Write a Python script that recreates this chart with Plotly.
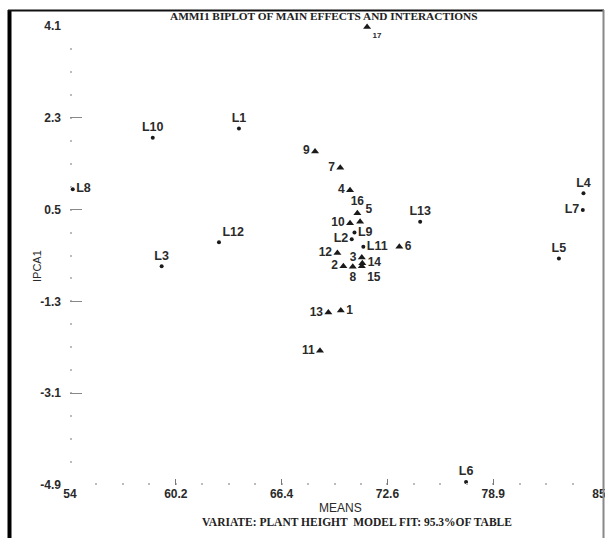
import plotly.graph_objects as go

# ---- data ----
geno_names = ["1", "2", "3", "4", "5", "6", "7", "8", "9", "10",
              "11", "12", "13", "14", "15", "16", "17"]
geno_means = [69.87, 70.02, 71.10, 70.41, 71.00, 73.30, 69.84, 70.57, 68.36, 70.41,
              68.65, 69.67, 69.14, 71.13, 71.10, 70.84, 71.41]
geno_ipca = [-1.48, -0.61, -0.44, 0.88, 0.26, -0.23, 1.32, -0.62, 1.64, 0.23,
             -2.27, -0.35, -1.52, -0.55, -0.61, 0.43, 4.08]

env_names = ["L1", "L2", "L3", "L4", "L5", "L6", "L7", "L8", "L9", "L10",
             "L11", "L12", "L13"]
env_means = [63.90, 70.51, 59.37, 84.09, 82.65, 77.21, 84.05, 54.16, 70.67, 58.85,
             71.19, 62.73, 74.52]
env_ipca = [2.09, -0.08, -0.61, 0.82, -0.46, -4.84, 0.49, 0.90, 0.05, 1.91,
            -0.23, -0.14, 0.26]

x_tickvals = [54, 60.2, 66.4, 72.6, 78.8, 85]
x_ticktext = ["54", "60.2", "66.4", "72.6", "78.9", "85"]
y_tickvals = [-4.9, -3.1, -1.3, 0.5, 2.3, 4.1]
y_ticktext = ["-4.9", "-3.1", "-1.3", "0.5", "2.3", "4.1"]

# ---- label placement (style) ----
geno_pos = ["middle right", "middle left", "middle left", "middle left", "top right",
            "middle right", "middle left", "bottom center", "middle left", "middle left",
            "middle left", "middle left", "middle left", "middle right", "bottom right",
            "top center", "bottom right"]
geno_fsize = [12] * 16 + [8]
env_pos = ["top center", "middle left", "top center", "top center", "top center",
           "top center", "middle left", "middle right", "middle right", "top center",
           "middle right", "top right", "top center"]

W, H = 605, 538
ML, MR, MT, MB = 70, 6, 26, 53
PW, PH = W - ML - MR, H - MT - MB

def px_x(p):
    return (p - ML) / PW

def px_y(p):
    return (H - MB - p) / PH

SANS = "Liberation Sans, Arial, sans-serif"
LABEL_FONT = dict(family=SANS, color="#2a2a2a", weight="bold")

fig = go.Figure()
fig.add_trace(go.Scatter(
    x=geno_means, y=geno_ipca, mode="markers+text", text=geno_names,
    textposition=geno_pos,
    textfont=dict(size=geno_fsize, **LABEL_FONT),
    marker=dict(symbol="triangle-up", size=7, color="#1a1a1a"),
    cliponaxis=False, showlegend=False, hoverinfo="skip"))
fig.add_trace(go.Scatter(
    x=env_means, y=env_ipca, mode="markers+text", text=env_names,
    textposition=env_pos,
    textfont=dict(size=12.5, **LABEL_FONT),
    marker=dict(symbol="circle", size=4, color="#1a1a1a"),
    cliponaxis=False, showlegend=False, hoverinfo="skip"))

TICKFONT = dict(family=SANS, size=12, color="#2a2a2a", weight="bold")
fig.update_xaxes(
    range=[54, 85], tickmode="array", tickvals=x_tickvals, ticktext=x_ticktext,
    ticks="inside", ticklen=6, tickwidth=1, tickcolor="#777",
    showline=False, showgrid=False, zeroline=False, tickfont=TICKFONT,
    ticklabeloverflow="allow", automargin=False,
    minor=dict(tick0=54, dtick=1.55, ticks="inside", ticklen=2, tickwidth=2,
               tickcolor="#bbb", showgrid=False))
fig.update_yaxes(
    range=[-4.9, 4.1], tickmode="array", tickvals=y_tickvals, ticktext=y_ticktext,
    ticks="inside", ticklen=12, tickwidth=1, tickcolor="#888",
    showline=False, showgrid=False, zeroline=False, tickfont=TICKFONT,
    ticklabelstandoff=8, ticklabeloverflow="allow", automargin=False,
    minor=dict(tick0=-4.9, dtick=0.45, ticks="inside", ticklen=2, tickwidth=2,
               tickcolor="#bbb", showgrid=False))

SERIF = "Liberation Serif, Times New Roman, serif"
fig.add_annotation(text="<b>AMMI1 BIPLOT OF MAIN EFFECTS AND INTERACTIONS</b>",
                   xref="paper", yref="paper", x=px_x(324), y=px_y(16),
                   showarrow=False, xanchor="center", yanchor="middle",
                   font=dict(family=SERIF, size=11.3, color="#222"))
fig.add_annotation(text="<b>VARIATE: PLANT HEIGHT  MODEL FIT: 95.3%OF TABLE</b>",
                   xref="paper", yref="paper", x=px_x(357), y=px_y(522),
                   showarrow=False, xanchor="center", yanchor="middle",
                   font=dict(family=SERIF, size=11.5, color="#222"))
fig.add_annotation(text="MEANS", xref="paper", yref="paper", x=px_x(340), y=px_y(508),
                   showarrow=False, xanchor="center", yanchor="middle",
                   font=dict(family=SANS, size=12, color="#2a2a2a"))
fig.add_annotation(text="IPCA1", xref="paper", yref="paper", x=px_x(37), y=px_y(266),
                   showarrow=False, xanchor="center", yanchor="middle", textangle=-90,
                   font=dict(family=SANS, size=11, color="#2a2a2a"))

# frame around the figure
fig.add_shape(type="line", xref="paper", yref="paper",
              x0=px_x(9.5), x1=px_x(9.5), y0=px_y(10), y1=px_y(540),
              line=dict(color="#000", width=4))
fig.add_shape(type="line", xref="paper", yref="paper",
              x0=px_x(8), x1=px_x(604), y0=px_y(10.5), y1=px_y(10.5),
              line=dict(color="#111", width=2))
fig.add_shape(type="line", xref="paper", yref="paper",
              x0=px_x(603.5), x1=px_x(603.5), y0=px_y(10), y1=px_y(540),
              line=dict(color="#888", width=2))

fig.update_layout(
    width=W, height=H, autosize=False,
    margin=dict(l=ML, r=MR, t=MT, b=MB, pad=0, autoexpand=False),
    paper_bgcolor="white", plot_bgcolor="white",
    showlegend=False)

fig.write_html("out.html", config={"displayModeBar": False},
               post_script="document.body.style.margin='0px';document.body.style.overflow='hidden';")
